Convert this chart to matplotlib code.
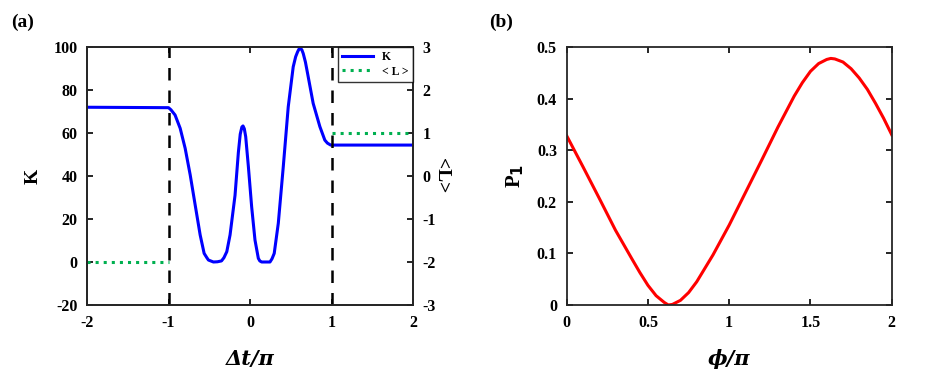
import numpy as np
import matplotlib.pyplot as plt

plt.rcParams['font.family'] = 'Liberation Serif'
plt.rcParams['font.weight'] = 'bold'
plt.rcParams['axes.unicode_minus'] = False

# panel (a): K versus dt/pi
dt = [-2.0, -1.0, -0.97, -0.92, -0.857, -0.796, -0.734, -0.673, -0.612, -0.563,
      -0.53, -0.51, -0.449, -0.4, -0.35, -0.32, -0.285, -0.245, -0.184, -0.143,
      -0.12, -0.1, -0.086, -0.07, -0.053, -0.02, 0.02, 0.061, 0.102, 0.12,
      0.143, 0.2, 0.245, 0.27, 0.297, 0.347, 0.408, 0.469, 0.53, 0.56,
      0.584, 0.6, 0.616, 0.635, 0.653, 0.68, 0.706, 0.775, 0.857, 0.918,
      0.95, 0.99, 2.0]
K = [72, 71.8, 70.8, 68.4, 62.2, 52.9, 40.5, 26.5, 12.6, 4.0,
     2.0, 0.9, 0.0, 0.1, 0.5, 2.0, 4.8, 12.6, 31.0, 51.0,
     59.5, 62.8, 63.3, 62.0, 58.3, 44.3, 25.7, 10.2, 1.7, 0.5,
     0.0, 0.0, 0.0, 1.5, 4.0, 18.0, 44.3, 72.2, 90.8, 95.5,
     97.8, 99.0, 99.4, 98.8, 97.0, 93.0, 87.8, 73.8, 63.0, 56.7,
     55.3, 54.4, 54.4]

# <L> levels (right axis)
L_left_x = [-2, -1]
L_left = [-2, -2]
L_right_x = [1, 2]
L_right = [1, 1]

# panel (b): P1 versus phi/pi
phi = [0.0, 0.05, 0.1, 0.2, 0.3, 0.4, 0.45, 0.5, 0.55, 0.6,
       0.625, 0.65, 0.7, 0.75, 0.8, 0.9, 1.0, 1.1, 1.2, 1.3,
       1.4, 1.45, 1.5, 1.55, 1.6, 1.625, 1.65, 1.7, 1.75, 1.8,
       1.85, 1.9, 1.95, 2.0]
P1 = [0.328, 0.298, 0.268, 0.207, 0.145, 0.09, 0.063, 0.038, 0.018, 0.005,
      0.0, 0.001, 0.009, 0.024, 0.045, 0.097, 0.155, 0.218, 0.281, 0.345,
      0.405, 0.431, 0.453, 0.468, 0.476, 0.478, 0.477, 0.471, 0.458, 0.44,
      0.418, 0.391, 0.362, 0.330]

fig = plt.figure(figsize=(9.26, 3.89), dpi=100)
ax1 = fig.add_axes([0.094, 0.216, 0.352, 0.663])
ax2 = fig.add_axes([0.612, 0.216, 0.351, 0.663])

tick_kw = dict(direction='in', length=4, width=1.2, labelsize=11.5, pad=7)

ax1.plot(dt, K, color='#0000ff', lw=2.2, label='K')
ax1.axvline(-1, color='black', ls=(0, (5, 4)), lw=1.8)
ax1.axvline(1, color='black', ls=(0, (5, 4)), lw=1.8)
ax1.set_xlim(-2, 2)
ax1.set_ylim(-20, 100)
ax1.set_xticks([-2, -1, 0, 1, 2])
ax1.set_yticks(np.arange(-20, 101, 20))
ax1.tick_params(top=True, **tick_kw)
ax1.set_ylabel('K', fontsize=14, fontweight='bold', labelpad=8)
ax1.set_xlabel('Δt/π', fontsize=15, fontweight='bold', style='italic',
               family='DejaVu Serif', labelpad=13)

ax1r = ax1.twinx()
ax1r.plot(L_left_x, L_left, color='#00b050', ls=':', lw=2.2, label='< L >')
ax1r.plot(L_right_x, L_right, color='#00b050', ls=':', lw=2.2)
ax1r.set_ylim(-3, 3)
ax1r.set_yticks(np.arange(-3, 4, 1))
ax1r.tick_params(**tick_kw)
ax1r.set_ylabel('<L>', fontsize=14, fontweight='bold', rotation=270, labelpad=10)

h1, l1 = ax1.get_legend_handles_labels()
h2, l2 = ax1r.get_legend_handles_labels()
leg = ax1r.legend(h1 + h2, l1 + l2, loc='upper right', fontsize=8.5,
                  frameon=True, fancybox=False, edgecolor='black',
                  handlelength=2.6, borderpad=0.35, labelspacing=0.2,
                  borderaxespad=0.0)
leg.get_frame().set_linewidth(1.0)

ax2.plot(phi, P1, color='#ff0000', lw=2.2)
ax2.set_xlim(0, 2)
ax2.set_ylim(0, 0.5)
ax2.set_xticks([0, 0.5, 1, 1.5, 2])
ax2.set_xticklabels(['0', '0.5', '1', '1.5', '2'])
ax2.set_yticks([0, 0.1, 0.2, 0.3, 0.4, 0.5])
ax2.set_yticklabels(['0', '0.1', '0.2', '0.3', '0.4', '0.5'])
ax2.tick_params(top=True, right=True, **tick_kw)
ax2.set_ylabel('P$_\\mathbf{1}$', fontsize=15, fontweight='bold', labelpad=8)
ax2.set_xlabel('ϕ/π', fontsize=15, fontweight='bold', style='italic',
               family='DejaVu Serif', labelpad=13)

for a in (ax1, ax1r, ax2):
    for s in a.spines.values():
        s.set_linewidth(1.3)
        s.set_color('#262626')

fig.text(0.012, 0.93, '(a)', fontsize=14, fontweight='bold')
fig.text(0.528, 0.93, '(b)', fontsize=14, fontweight='bold')

fig.savefig('out.png', dpi=100)
